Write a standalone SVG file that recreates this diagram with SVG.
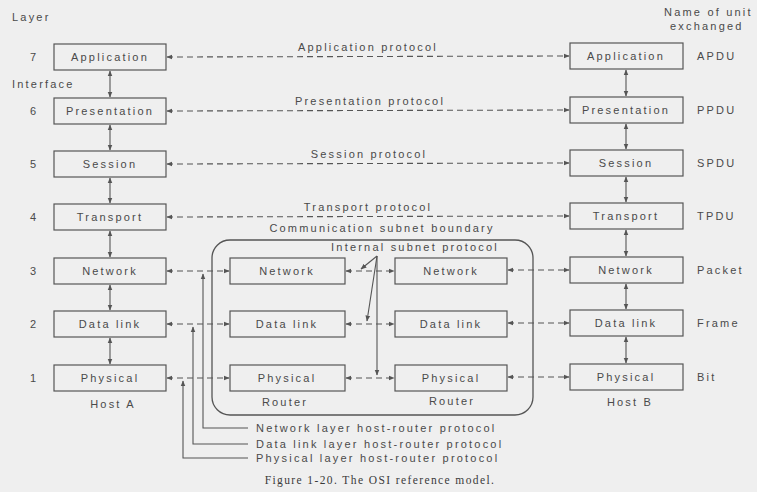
<svg xmlns="http://www.w3.org/2000/svg" width="757" height="492" viewBox="0 0 757 492">
  <style>
    .bg { fill: #efefef; }
    .box { fill: none; stroke: #555; stroke-width: 1.2; }
    .lbl { font-family: "Liberation Sans", Arial, sans-serif; font-size: 11px; fill: #4a4a4a; letter-spacing: 2.2px; }
    .mid { text-anchor: middle; }
    .proto { fill: none; stroke: #555; stroke-width: 1.1; stroke-dasharray: 6 4; marker-start: url(#ah); marker-end: url(#ah); }
    .iface { fill: none; stroke: #555; stroke-width: 1.1; marker-start: url(#ah); marker-end: url(#ah); }
    .lead { fill: none; stroke: #555; stroke-width: 1.1; marker-end: url(#ah); }
    .edge { fill: none; stroke: #555; stroke-width: 1.3; }
    .cap { font-family: "Liberation Serif", "Times New Roman", serif; font-size: 11.5px; fill: #3a3a3a; letter-spacing: 1.4px; text-anchor: middle; }
  </style>
  <defs>
    <marker id="ah" viewBox="0 0 10 10" refX="9" refY="5" markerWidth="6" markerHeight="6" markerUnits="userSpaceOnUse" orient="auto-start-reverse">
      <path d="M0,1 L10,5 L0,9 Z" fill="#555"/>
    </marker>
  </defs>

  <rect class="bg" x="0" y="0" width="757" height="492"/>

  <!-- column headings -->
  <g id="headings">
    <text class="lbl" x="12" y="21">Layer</text>
    <text class="lbl" x="12" y="88">Interface</text>
    <text class="lbl" x="664" y="16">Name of unit</text>
    <text class="lbl" x="670" y="30">exchanged</text>
  </g>

  <!-- layer numbers -->
  <g id="layer-numbers" class="lbl">
    <text x="30" y="61">7</text>
    <text x="30" y="115">6</text>
    <text x="30" y="168">5</text>
    <text x="30" y="221">4</text>
    <text x="30" y="275">3</text>
    <text x="30" y="328">2</text>
    <text x="30" y="382">1</text>
  </g>

  <!-- unit names -->
  <g id="unit-names" class="lbl">
    <text x="697" y="60">APDU</text>
    <text x="697" y="114">PPDU</text>
    <text x="697" y="167">SPDU</text>
    <text x="697" y="220">TPDU</text>
    <text x="697" y="274">Packet</text>
    <text x="697" y="327">Frame</text>
    <text x="697" y="381">Bit</text>
  </g>

  <!-- peer protocol names -->
  <g id="protocol-labels" class="lbl mid">
    <text x="368" y="51">Application protocol</text>
    <text x="370" y="105">Presentation protocol</text>
    <text x="369" y="158">Session protocol</text>
    <text x="368" y="211">Transport protocol</text>
  </g>

  <!-- communication subnet -->
  <g id="subnet">
    <rect class="edge" x="212" y="240" width="321" height="175" rx="18"/>
    <text class="lbl mid" x="382" y="232">Communication subnet boundary</text>
    <text class="lbl mid" x="415" y="251">Internal subnet protocol</text>
  </g>

  <!-- Host A -->
  <g id="hostA-application"><rect class="box" x="54" y="44" width="112" height="26"/><text class="lbl mid" x="110" y="61">Application</text></g>
  <g id="hostA-presentation"><rect class="box" x="54" y="98" width="112" height="26"/><text class="lbl mid" x="110" y="115">Presentation</text></g>
  <g id="hostA-session"><rect class="box" x="54" y="151" width="112" height="26"/><text class="lbl mid" x="110" y="168">Session</text></g>
  <g id="hostA-transport"><rect class="box" x="54" y="204" width="112" height="26"/><text class="lbl mid" x="110" y="221">Transport</text></g>
  <g id="hostA-network"><rect class="box" x="54" y="258" width="112" height="26"/><text class="lbl mid" x="110" y="275">Network</text></g>
  <g id="hostA-datalink"><rect class="box" x="54" y="311" width="112" height="26"/><text class="lbl mid" x="110" y="328">Data link</text></g>
  <g id="hostA-physical"><rect class="box" x="54" y="365" width="112" height="26"/><text class="lbl mid" x="110" y="382">Physical</text></g>
  <text class="lbl mid" x="113" y="408">Host A</text>

  <!-- Router 1 -->
  <g id="router1-network"><rect class="box" x="230" y="258" width="115" height="26"/><text class="lbl mid" x="287" y="275">Network</text></g>
  <g id="router1-datalink"><rect class="box" x="230" y="311" width="115" height="26"/><text class="lbl mid" x="287" y="328">Data link</text></g>
  <g id="router1-physical"><rect class="box" x="230" y="365" width="115" height="26"/><text class="lbl mid" x="287" y="382">Physical</text></g>
  <text class="lbl mid" x="285" y="406">Router</text>

  <!-- Router 2 -->
  <g id="router2-network"><rect class="box" x="395" y="258" width="112" height="26"/><text class="lbl mid" x="451" y="275">Network</text></g>
  <g id="router2-datalink"><rect class="box" x="395" y="311" width="112" height="26"/><text class="lbl mid" x="451" y="328">Data link</text></g>
  <g id="router2-physical"><rect class="box" x="395" y="365" width="112" height="26"/><text class="lbl mid" x="451" y="382">Physical</text></g>
  <text class="lbl mid" x="452" y="405">Router</text>

  <!-- Host B -->
  <g id="hostB-application"><rect class="box" x="570" y="43" width="113" height="26"/><text class="lbl mid" x="626" y="60">Application</text></g>
  <g id="hostB-presentation"><rect class="box" x="570" y="97" width="113" height="26"/><text class="lbl mid" x="626" y="114">Presentation</text></g>
  <g id="hostB-session"><rect class="box" x="570" y="150" width="113" height="26"/><text class="lbl mid" x="626" y="167">Session</text></g>
  <g id="hostB-transport"><rect class="box" x="570" y="203" width="113" height="26"/><text class="lbl mid" x="626" y="220">Transport</text></g>
  <g id="hostB-network"><rect class="box" x="570" y="257" width="113" height="26"/><text class="lbl mid" x="626" y="274">Network</text></g>
  <g id="hostB-datalink"><rect class="box" x="570" y="310" width="113" height="26"/><text class="lbl mid" x="626" y="327">Data link</text></g>
  <g id="hostB-physical"><rect class="box" x="570" y="364" width="113" height="26"/><text class="lbl mid" x="626" y="381">Physical</text></g>
  <text class="lbl mid" x="630" y="406">Host B</text>

  <!-- connectors -->
  <g id="connectors">
    <!-- peer protocols, host to host -->
    <line class="proto" x1="167" y1="57" x2="569" y2="56"/>
    <line class="proto" x1="167" y1="111" x2="569" y2="110"/>
    <line class="proto" x1="167" y1="164" x2="569" y2="163"/>
    <line class="proto" x1="167" y1="217" x2="569" y2="216"/>
    <!-- host A to router 1 -->
    <line class="proto" x1="167" y1="271" x2="229" y2="271"/>
    <line class="proto" x1="167" y1="324" x2="229" y2="324"/>
    <line class="proto" x1="167" y1="378" x2="229" y2="378"/>
    <!-- router 1 to router 2 -->
    <line class="proto" x1="346" y1="271" x2="394" y2="271"/>
    <line class="proto" x1="346" y1="324" x2="394" y2="324"/>
    <line class="proto" x1="346" y1="378" x2="394" y2="378"/>
    <!-- router 2 to host B -->
    <line class="proto" x1="508" y1="270" x2="569" y2="270"/>
    <line class="proto" x1="508" y1="323" x2="569" y2="323"/>
    <line class="proto" x1="508" y1="377" x2="569" y2="377"/>

    <!-- interfaces, host A -->
    <line class="iface" x1="110" y1="71" x2="110" y2="97"/>
    <line class="iface" x1="110" y1="125" x2="110" y2="150"/>
    <line class="iface" x1="110" y1="178" x2="110" y2="203"/>
    <line class="iface" x1="110" y1="231" x2="110" y2="257"/>
    <line class="iface" x1="110" y1="285" x2="110" y2="310"/>
    <line class="iface" x1="110" y1="338" x2="110" y2="364"/>
    <!-- interfaces, host B -->
    <line class="iface" x1="626" y1="70" x2="626" y2="96"/>
    <line class="iface" x1="626" y1="124" x2="626" y2="149"/>
    <line class="iface" x1="626" y1="177" x2="626" y2="202"/>
    <line class="iface" x1="626" y1="230" x2="626" y2="256"/>
    <line class="iface" x1="626" y1="284" x2="626" y2="309"/>
    <line class="iface" x1="626" y1="337" x2="626" y2="363"/>

    <!-- internal subnet protocol pointers -->
    <line class="lead" x1="377" y1="256" x2="361" y2="269"/>
    <line class="lead" x1="377" y1="256" x2="367" y2="321"/>
    <line class="lead" x1="377" y1="256" x2="377" y2="375"/>

    <!-- host-router protocol pointers -->
    <polyline class="lead" points="248,428 203,428 203,274"/>
    <polyline class="lead" points="248,444 193,444 193,327"/>
    <polyline class="lead" points="248,458 183,458 183,381"/>
  </g>

  <!-- host-router protocol labels -->
  <g id="host-router-labels" class="lbl">
    <text x="256" y="432">Network layer host-router protocol</text>
    <text x="256" y="448">Data link layer host-router protocol</text>
    <text x="256" y="462">Physical layer host-router protocol</text>
  </g>

  <text class="cap" x="380" y="484">Figure 1-20.  The OSI reference model.</text>
</svg>
